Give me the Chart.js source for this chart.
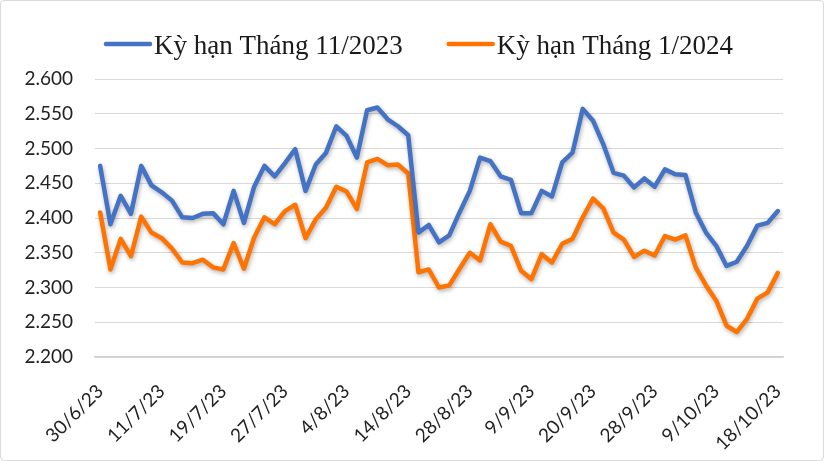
<!DOCTYPE html>
<html>
<head>
<meta charset="utf-8">
<script src="https://cdn.jsdelivr.net/npm/chart.js@4.4.0/dist/chart.umd.min.js"></script>
<style>
	html, body { margin: 0; padding: 0; background: #fff; }
	#box { width: 824px; height: 461px; box-sizing: border-box; border: 1px solid #d9d9d9; border-radius: 4px; }
	canvas { display: block; }
</style>
</head>
<body>
<div id="box"><canvas id="chart" width="822" height="459"></canvas></div>
<script>
// one label every 6 sessions on the x axis
const tickLabels = ["30/6/23", "11/7/23", "19/7/23", "27/7/23", "4/8/23", "14/8/23",
	"28/8/23", "9/9/23", "20/9/23", "28/9/23", "9/10/23", "18/10/23"];
const tickEvery = 6;

const seriesNames = ["Kỳ hạn Tháng 11/2023", "Kỳ hạn Tháng 1/2024"];
const seriesColors = ["#4472C4", "#FF7300"];

const novValues = [
	2475, 2391, 2432, 2406, 2475, 2447, 2437, 2425, 2401, 2400, 2406, 2407,
	2391, 2439, 2393, 2445, 2475, 2460, 2479, 2499, 2439, 2477, 2494, 2532,
	2518, 2487, 2555, 2559, 2542, 2532, 2519, 2379, 2390, 2365, 2375, 2408,
	2439, 2487, 2482, 2460, 2455, 2407, 2407, 2439, 2431, 2480, 2494, 2557,
	2540, 2506, 2465, 2461, 2444, 2457, 2445, 2470, 2463, 2462, 2408, 2379,
	2360, 2331, 2337, 2360, 2389, 2393, 2410
];
const janValues = [
	2408, 2326, 2370, 2345, 2402, 2379, 2371, 2356, 2336, 2335, 2340, 2329,
	2326, 2364, 2327, 2372, 2401, 2391, 2410, 2419, 2371, 2398, 2415, 2445,
	2438, 2413, 2480, 2485, 2476, 2477, 2464, 2322, 2326, 2300, 2303, 2327,
	2350, 2339, 2391, 2366, 2360, 2324, 2312, 2348, 2336, 2363, 2370, 2401,
	2428, 2414, 2379, 2369, 2344, 2353, 2346, 2374, 2369, 2375, 2329, 2303,
	2281, 2245, 2236, 2255, 2284, 2293, 2321
];

const labels = novValues.map((v, i) => (i % tickEvery === 0 ? tickLabels[i / tickEvery] : ""));

// soft drop shadow under the lines
const lineShadow = {
	id: "lineShadow",
	beforeDatasetDraw(chart) {
		const ctx = chart.ctx;
		ctx.save();
		ctx.shadowColor = "rgba(0,0,0,0.3)";
		ctx.shadowBlur = 4;
		ctx.shadowOffsetX = 1;
		ctx.shadowOffsetY = 2;
	},
	afterDatasetDraw(chart) {
		chart.ctx.restore();
	}
};

// legend drawn as line + text, left of centre like the original
const topLegend = {
	id: "topLegend",
	afterDraw(chart) {
		const ctx = chart.ctx;
		ctx.save();
		ctx.font = '27px "Liberation Serif"';
		ctx.textBaseline = "alphabetic";
		let x = 103;
		const y = 43;
		chart.data.datasets.forEach(ds => {
			ctx.strokeStyle = ds.borderColor;
			ctx.lineWidth = 4.5;
			ctx.lineCap = "round";
			ctx.beginPath();
			ctx.moveTo(x + 2, y);
			ctx.lineTo(x + 46, y);
			ctx.stroke();
			ctx.fillStyle = "#1a1a1a";
			ctx.fillText(ds.label, x + 50, y + 10);
			x += 50 + ctx.measureText(ds.label).width + 44;
		});
		ctx.restore();
	}
};

const makeSet = (name, values, color) => ({
	label: name,
	data: values,
	borderColor: color,
	backgroundColor: color,
	borderWidth: 4.5,
	borderJoinStyle: "round",
	borderCapStyle: "round",
	pointRadius: 0,
	tension: 0
});

new Chart(document.getElementById("chart"), {
	type: "line",
	data: {
		labels: labels,
		datasets: [
			makeSet(seriesNames[0], novValues, seriesColors[0]),
			makeSet(seriesNames[1], janValues, seriesColors[1])
		]
	},
	options: {
		responsive: false,
		animation: false,
		layout: { padding: { top: 78, right: 40, bottom: 0, left: 24 } },
		plugins: {
			legend: { display: false },
			tooltip: { enabled: false }
		},
		scales: {
			x: {
				offset: true,
				afterFit: scale => { scale.height = 103; },
				grid: { display: false, drawTicks: false },
				border: { display: true, color: "#d0d0d0", width: 1.5 },
				ticks: {
					autoSkip: false,
					minRotation: 45,
					maxRotation: 45,
					padding: 23,
					color: "#222",
					font: { family: "Lato", size: 19 }
				}
			},
			y: {
				min: 2200,
				max: 2600,
				afterFit: scale => { scale.width = 70; },
				grid: { color: "#d9d9d9", lineWidth: 1, drawTicks: false },
				border: { display: false },
				ticks: {
					stepSize: 50,
					padding: 22,
					color: "#222",
					font: { family: "Lato", size: 19 },
					callback: value => (value / 1000).toFixed(3)
				}
			}
		}
	},
	plugins: [lineShadow, topLegend]
});
</script>
</body>
</html>
